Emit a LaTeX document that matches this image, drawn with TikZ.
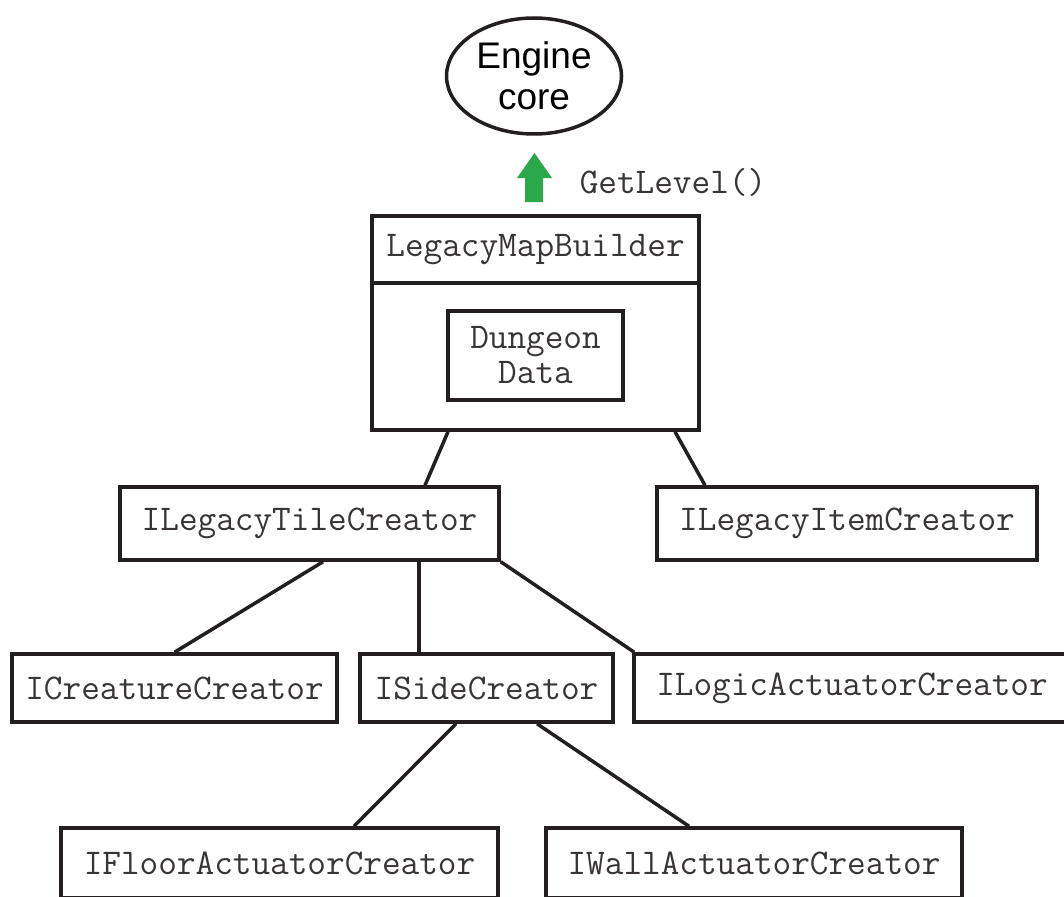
\documentclass[tikz,border=0pt]{standalone}
\usepackage{fontspec}
\newfontfamily\corefont{Liberation Sans}
\usepackage{tikz}
\usetikzlibrary{shapes.geometric, positioning}

\definecolor{inkgray}{HTML}{231F20}
\definecolor{callgreen}{HTML}{2BA84A}

\begin{document}
\begin{tikzpicture}[x=1pt, y=-1pt,
    creator/.style={rectangle, draw=inkgray, line width=3.5pt, inner sep=0pt,
        text=inkgray!90, font=\ttfamily\fontsize{36.2}{35}\selectfont},
    core/.style={ellipse, draw=inkgray, line width=3.5pt, inner sep=0pt, align=center,
        font=\corefont\fontsize{37}{41}\selectfont},
    link/.style={draw=inkgray, line width=3.5pt}]
        \clip (0,0) rectangle (1064,896);

        \node[core, minimum width=175pt, minimum height=116pt] (engine) at (534,76)
            {Engine\\core};

        % the call up to the engine
        \fill[callgreen] (525,202) -- (543,202) -- (543,178) -- (552,178)
            -- (534.5,153) -- (517,178) -- (525,178) -- cycle;
        \node[creator, draw=none, anchor=west] (getlevel) at (578,182)
            {GetLevel()};

        \node[creator, minimum width=327pt, minimum height=67pt] (builder) at (535.5,249.5)
            {LegacyMapBuilder};
        \node[creator, minimum width=327pt, minimum height=147pt] (builder_body) at (535.5,356.5)
            {};
        \node[creator, minimum width=175pt, minimum height=89pt, align=center] (dungeon) at (535.5,355.5)
            {Dungeon\\Data};

        \node[creator, minimum width=379pt, minimum height=73pt] (tile) at (309.5,523.5)
            {ILegacyTileCreator};
        \node[creator, minimum width=380pt, minimum height=73pt] (item) at (847,523.5)
            {ILegacyItemCreator};

        \node[creator, minimum width=325pt, minimum height=68pt] (creature) at (174.5,688)
            {ICreatureCreator};
        \node[creator, minimum width=253pt, minimum height=68pt] (side) at (486.5,688)
            {ISideCreator};
        \node[creator, minimum width=436pt, minimum height=68pt] (logic) at (852,688)
            {ILogicActuatorCreator};

        \node[creator, minimum width=437pt, minimum height=70pt] (floor) at (279.5,863)
            {IFloorActuatorCreator};
        \node[creator, minimum width=416pt, minimum height=70pt] (wall) at (754,863)
            {IWallActuatorCreator};

        \draw[link] ([xshift=-87.5pt]builder_body.south) -- ([xshift=115.5pt]tile.north);
        \draw[link] ([xshift=139.5pt]builder_body.south) -- ([xshift=-142pt]item.north);
        \draw[link] ([xshift=13.5pt]tile.south) -- (creature.north);
        \draw[link] ([xshift=109.5pt]tile.south) -- ([xshift=-67.5pt]side.north);
        \draw[link] (tile.south east) -- ([xshift=2pt]logic.north west);
        \draw[link] ([xshift=-30.5pt]side.south) -- ([xshift=74.5pt]floor.north);
        \draw[link] ([xshift=50.5pt]side.south) -- ([xshift=-65pt]wall.north);

    \end{tikzpicture}
\end{document}
